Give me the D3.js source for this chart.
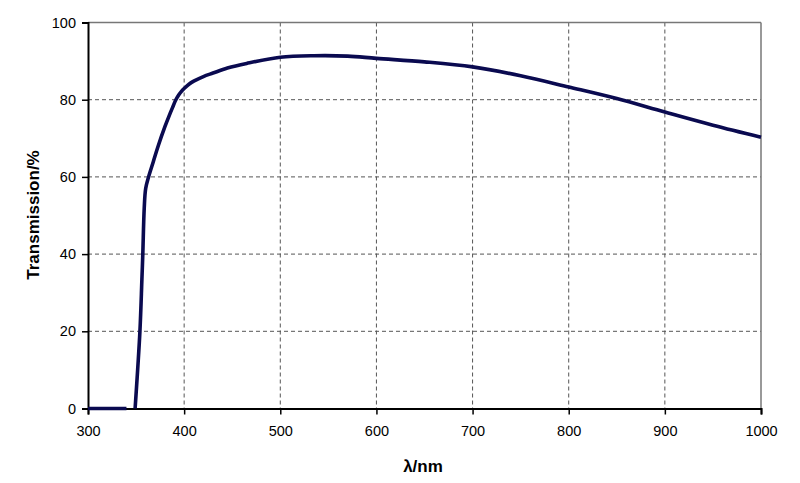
<!DOCTYPE html>
<html>
<head>
<meta charset="utf-8">
<script src="https://d3js.org/d3.v7.min.js"></script>
<style>
body {margin: 0; background: white;}
svg {font-family: "Liberation Sans", Arial, sans-serif;}
.grid line {stroke: #555; stroke-dasharray: 4,3; stroke-width: 1;}
.axtitle {font-size: 17px; font-weight: bold;}
</style>
</head>
<body>
<svg width="800" height="483"></svg>
<script>
// wavelength (nm) and transmission (%)
var wavelength = [300, 340, 345, 349, 354, 356, 357, 358.5, 360, 363, 368, 373, 380, 385, 388, 391, 394, 397, 400, 405, 410, 420, 430, 445, 465, 500, 535, 570, 600, 650, 700, 750, 800, 850, 900, 950, 1000];
var transmission = [0, 0, null, 0, 20, 33, 40, 52, 57, 60, 64, 68, 73, 76.2, 78, 79.8, 81.1, 82.1, 82.9, 84.0, 84.8, 86.0, 86.9, 88.2, 89.4, 91, 91.4, 91.3, 90.7, 89.8, 88.5, 86.2, 83.3, 80.3, 76.8, 73.4, 70.3];
var xTicks = [300, 400, 500, 600, 700, 800, 900, 1000];
var yTicks = [0, 20, 40, 60, 80, 100];

var svg = d3.select("svg");
var mLeft = 88, mRight = 761, mTop = 22.5, mBottom = 408.5;

var x = d3.scaleLinear().domain([300, 1000]).range([mLeft, mRight]);
var y = d3.scaleLinear().domain([0, 100]).range([mBottom, mTop]);

var data = wavelength.map(function(w, i) { return {w: w, t: transmission[i]}; });

// gridlines
var grid = svg.append("g").attr("class", "grid");
grid.selectAll(".vg").data(xTicks.slice(1, -1)).enter().append("line")
  .attr("x1", x).attr("x2", x).attr("y1", mTop).attr("y2", mBottom);
grid.selectAll(".hg").data(yTicks.slice(1, -1)).enter().append("line")
  .attr("x1", mLeft).attr("x2", mRight).attr("y1", y).attr("y2", y);

// top / right frame
svg.append("line").attr("x1", mLeft).attr("x2", mRight).attr("y1", mTop).attr("y2", mTop)
  .attr("stroke", "#777").attr("stroke-width", 1.5);
svg.append("line").attr("x1", mRight).attr("x2", mRight).attr("y1", mTop).attr("y2", mBottom)
  .attr("stroke", "#777").attr("stroke-width", 1.5);

// axes
var xAxis = svg.append("g").attr("transform", "translate(0," + mBottom + ")")
  .call(d3.axisBottom(x).tickValues(xTicks).tickSize(6).tickPadding(11).tickFormat(d3.format("d")));
var yAxis = svg.append("g").attr("transform", "translate(" + mLeft + ",0)")
  .call(d3.axisLeft(y).tickValues(yTicks).tickSize(6).tickPadding(6).tickFormat(d3.format("d")));
[xAxis, yAxis].forEach(function(a) {
  a.attr("font-family", "Liberation Sans, Arial, sans-serif").attr("font-size", 14.5);
  a.select(".domain").attr("stroke", "black").attr("stroke-width", 2);
  a.selectAll(".tick line").attr("stroke", "black").attr("stroke-width", 1.5);
  a.selectAll(".tick text").attr("fill", "black");
});

// curve
var line = d3.line()
  .defined(function(d) { return d.t !== null; })
  .x(function(d) { return x(d.w); })
  .y(function(d) { return y(d.t); })
  .curve(d3.curveCatmullRom.alpha(0.5));

svg.append("path").datum(data)
  .attr("d", line)
  .attr("fill", "none")
  .attr("stroke", "#0a0a50")
  .attr("stroke-width", 3.6)
  .attr("stroke-linejoin", "round");

// titles
svg.append("text").attr("class", "axtitle")
  .attr("x", 423).attr("y", 472).attr("text-anchor", "middle")
  .text("λ/nm");
svg.append("text").attr("class", "axtitle")
  .attr("transform", "translate(39,215) rotate(-90)").attr("text-anchor", "middle")
  .text("Transmission/%");
</script>
</body>
</html>
